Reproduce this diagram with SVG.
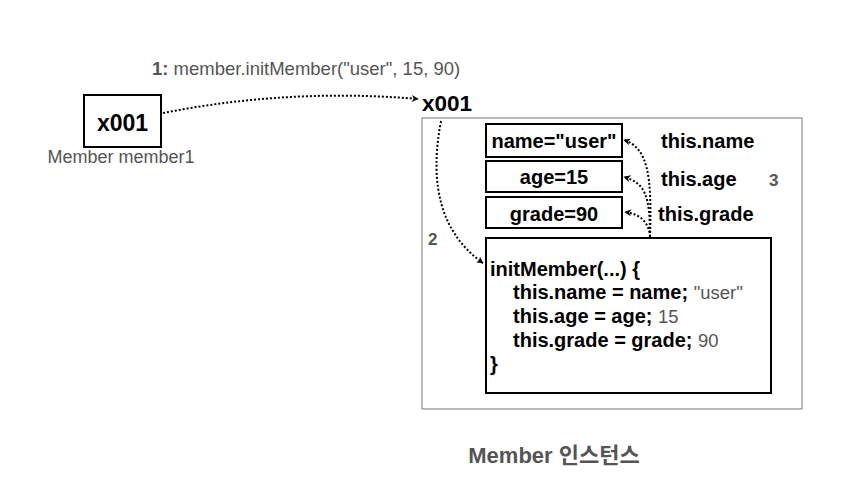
<svg xmlns="http://www.w3.org/2000/svg" width="849" height="478" viewBox="0 0 849 478">
<defs>
<marker id="ah" viewBox="0 0 10 10" refX="9" refY="5" markerWidth="7" markerHeight="7" orient="auto" markerUnits="userSpaceOnUse">
<path d="M0,0 L10,5 L0,10 L3,5 Z" fill="#000"/>
</marker>
<style>
text{font-family:"Liberation Sans",Arial,"Noto Sans CJK KR",sans-serif}
.b{font-weight:bold;fill:#000}
.g{fill:#555}
.gb{fill:#555;font-weight:bold}
.box{fill:#fff;stroke:#000;stroke-width:2}
.conn{fill:none;stroke:#000;stroke-width:2;stroke-dasharray:2 2;marker-end:url(#ah)}
</style>
</defs>
<rect width="849" height="478" fill="#fff"/>
<g id="container">
<rect x="422" y="118" width="380" height="291" fill="#fff" stroke="#777" stroke-width="1"/>
</g>
<g id="member1">
<rect class="box" x="84" y="95" width="77" height="52"/>
<text class="b" x="122.5" y="131" font-size="23" text-anchor="middle">x001</text>
<text class="g" x="121" y="163" font-size="18" text-anchor="middle">Member member1</text>
</g>
<g id="label1">
<text class="g" x="152" y="75" font-size="18.5"><tspan font-weight="bold">1:</tspan> member.initMember("user", 15, 90)</text>
</g>
<g id="x001ref">
<text class="b" x="422" y="111" font-size="22.5">x001</text>
</g>
<g id="name">
<rect class="box" x="486" y="124" width="136" height="33"/>
<text class="b" x="554" y="148" font-size="20" text-anchor="middle">name="user"</text>
</g>
<g id="age">
<rect class="box" x="486" y="161" width="136" height="31"/>
<text class="b" x="554" y="184" font-size="20" text-anchor="middle">age=15</text>
</g>
<g id="grade">
<rect class="box" x="486" y="197" width="136" height="31"/>
<text class="b" x="554" y="221" font-size="20" text-anchor="middle">grade=90</text>
</g>
<g id="method">
<rect class="box" x="486" y="238" width="285" height="155"/>
<text class="b" x="490" y="276" font-size="20">initMember(...) {</text>
<text class="b" x="513" y="299" font-size="20">this.name = name; <tspan class="g" font-weight="normal" font-size="18.5">"user"</tspan></text>
<text class="b" x="513" y="323" font-size="20">this.age = age; <tspan class="g" font-weight="normal" font-size="18.5">15</tspan></text>
<text class="b" x="513" y="347" font-size="20">this.grade = grade; <tspan class="g" font-weight="normal" font-size="18.5">90</tspan></text>
<text class="b" x="490" y="371" font-size="20">}</text>
</g>
<g id="labels">
<text class="b" x="661" y="148" font-size="20">this.name</text>
<text class="b" x="661" y="186" font-size="20">this.age</text>
<text class="b" x="658" y="221" font-size="20">this.grade</text>
<text class="gb" x="769" y="186" font-size="17">3</text>
<text class="gb" x="428" y="245" font-size="17">2</text>
</g>
<g id="connectors">
<path class="conn" d="M163,113 Q290,88 418,99"/>
<path class="conn" d="M441,121 Q422,220 483,263"/>
<path class="conn" d="M650,237 C652,175 648,148 624,140"/>
<path class="conn" d="M650,237 C650,195 645,183 624,177"/>
<path class="conn" d="M650,237 C649,222 640,214 625,212"/>
</g>
<g id="title">
<text class="gb" x="554" y="463" font-size="22" text-anchor="middle">Member 인스턴스</text>
</g>
</svg>
